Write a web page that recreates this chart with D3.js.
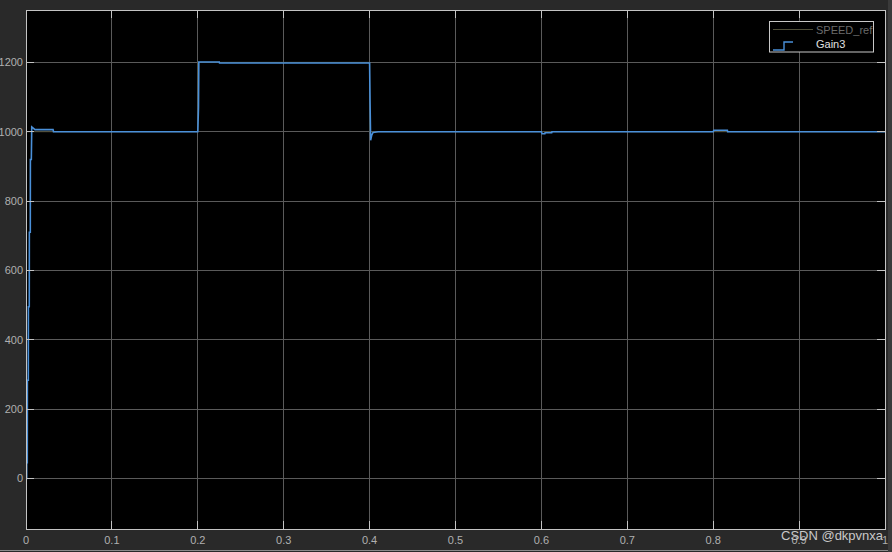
<!DOCTYPE html>
<html>
<head>
<meta charset="utf-8">
<script src="https://cdn.jsdelivr.net/npm/d3@7"></script>
<style>
  html, body { margin: 0; padding: 0; background: #292929; }
  svg { display: block; }
</style>
</head>
<body>
<svg id="chart" width="892" height="552"></svg>
<script>
// ---- data ----
const xTicks = [0, 0.1, 0.2, 0.3, 0.4, 0.5, 0.6, 0.7, 0.8, 0.9, 1];
const xTickLabels = ["0", "0.1", "0.2", "0.3", "0.4", "0.5", "0.6", "0.7", "0.8", "0.9", "1"];
const yTicks = [0, 200, 400, 600, 800, 1000, 1200];
const yTickLabels = ["0", "200", "400", "600", "800", "1000", "1200"];

const seriesNames = ["SPEED_ref", "Gain3"];

// SPEED_ref (reference speed, step profile)
const refTime  = [0, 0, 0.2, 0.2, 0.4, 0.4, 1.0];
const refValue = [0, 1000, 1000, 1200, 1200, 1000, 1000];

// Gain3 (measured speed)
const gainTime = [0, 0.0008, 0.0008, 0.0015, 0.0016, 0.0027, 0.0028, 0.0038, 0.0039, 0.0050, 0.0051, 0.0062, 0.0067, 0.0105, 0.0315, 0.032,
  0.2, 0.2008, 0.2012, 0.225, 0.2253,
  0.4, 0.4005, 0.4012, 0.4025, 0.404, 0.41,
  0.6, 0.6008, 0.604, 0.6043, 0.612, 0.6123,
  0.8, 0.8008, 0.8165, 0.8168, 1.0];
const gainValue = [0, 0, 45, 45, 283, 283, 495, 495, 710, 710, 920, 920, 1014, 1006, 1006, 1000,
  1000, 1070, 1201, 1201, 1198,
  1198, 1090, 975, 990, 998, 1000,
  1000, 994, 994, 997, 997, 1000,
  1000, 1004, 1004, 1000, 1000];

// ---- layout ----
const svg = d3.select("#chart");
const L = 26, R = 885, T = 10, B = 529;
const x = d3.scaleLinear().domain([0, 1]).range([L, R]);
const y = d3.scaleLinear().domain([-146, 1351]).range([B, T]);

// outer edges
svg.append("rect").attr("x", 0).attr("y", 0).attr("width", 892).attr("height", 552).attr("fill", "#292929");
svg.append("line").attr("x1", 0).attr("x2", 892).attr("y1", 550.5).attr("y2", 550.5).attr("stroke", "#8a8a8a");
svg.append("rect").attr("x", 888).attr("y", 0).attr("width", 4).attr("height", 552).attr("fill", "#3a3a3a");

// plot background
svg.append("rect").attr("x", L).attr("y", T).attr("width", R - L).attr("height", B - T).attr("fill", "#000");

// grid
const grid = svg.append("g").attr("stroke", "#5a5a5a").attr("stroke-width", 1).attr("shape-rendering", "crispEdges");
xTicks.forEach(t => {
  grid.append("line").attr("x1", x(t)).attr("x2", x(t)).attr("y1", T).attr("y2", B);
});
yTicks.forEach(t => {
  grid.append("line").attr("x1", L).attr("x2", R).attr("y1", y(t)).attr("y2", y(t));
});

// data lines
const lineGen = d3.line().x(d => x(d[0])).y(d => y(d[1]));
const refData = refTime.map((t, i) => [t, refValue[i]]);
const gainData = gainTime.map((t, i) => [t, gainValue[i]]);

const clip = svg.append("clipPath").attr("id", "clip").append("rect")
  .attr("x", L).attr("y", T).attr("width", R - L).attr("height", B - T);

svg.append("path").datum(refData).attr("d", lineGen)
  .attr("fill", "none").attr("stroke", "#4f4e38").attr("stroke-width", 1).attr("clip-path", "url(#clip)");
svg.append("path").datum(gainData).attr("d", lineGen)
  .attr("fill", "none").attr("stroke", "#4a90d9").attr("stroke-width", 1.6)
  .attr("stroke-linejoin", "miter").attr("clip-path", "url(#clip)");

// axes (MATLAB-style box with inward ticks)
const axisColor = "#c4c4c4";
const tk = 8;
const axes = svg.append("g").attr("stroke", axisColor).attr("stroke-width", 1).attr("shape-rendering", "crispEdges");
xTicks.forEach(t => {
  axes.append("line").attr("x1", x(t)).attr("x2", x(t)).attr("y1", B).attr("y2", B - tk);
  axes.append("line").attr("x1", x(t)).attr("x2", x(t)).attr("y1", T).attr("y2", T + tk);
});
yTicks.forEach(t => {
  axes.append("line").attr("x1", L).attr("x2", L + tk).attr("y1", y(t)).attr("y2", y(t));
  axes.append("line").attr("x1", R).attr("x2", R - tk).attr("y1", y(t)).attr("y2", y(t));
});
svg.append("rect").attr("x", L).attr("y", T).attr("width", R - L).attr("height", B - T)
  .attr("fill", "none").attr("stroke", axisColor).attr("stroke-width", 1).attr("shape-rendering", "crispEdges");

// tick labels
const font = "Liberation Sans, Arial, sans-serif";
svg.append("g").selectAll("text").data(xTicks).join("text")
  .attr("x", d => x(d)).attr("y", 544)
  .attr("text-anchor", "middle").attr("font-family", font).attr("font-size", 11)
  .attr("fill", "#b0b0b0").text((d, i) => xTickLabels[i]);
svg.append("g").selectAll("text").data(yTicks).join("text")
  .attr("x", 23).attr("y", d => y(d) + 4)
  .attr("text-anchor", "end").attr("font-family", font).attr("font-size", 11)
  .attr("fill", "#b0b0b0").text((d, i) => yTickLabels[i]);

// legend
const lg = svg.append("g");
lg.append("rect").attr("x", 769.5).attr("y", 21.5).attr("width", 104).attr("height", 30.5)
  .attr("fill", "#000").attr("stroke", "#c8c8c8").attr("stroke-width", 1);
lg.append("line").attr("x1", 773).attr("x2", 813).attr("y1", 29.5).attr("y2", 29.5)
  .attr("stroke", "#4f4e38").attr("stroke-width", 1.2);
lg.append("text").attr("x", 816).attr("y", 34).attr("font-family", font).attr("font-size", 11)
  .attr("fill", "#6a6a6a").text(seriesNames[0]);
lg.append("path").attr("d", "M773,50 H784 V42 H793")
  .attr("fill", "none").attr("stroke", "#4a90d9").attr("stroke-width", 1.4);
lg.append("text").attr("x", 816).attr("y", 48).attr("font-family", font).attr("font-size", 11)
  .attr("fill", "#e0e0e0").text(seriesNames[1]);

// watermark
svg.append("text").attr("x", 781).attr("y", 540).attr("font-family", font).attr("font-size", 13)
  .attr("fill", "#c8c8c8").text("CSDN @dkpvnxa");
</script>
</body>
</html>
